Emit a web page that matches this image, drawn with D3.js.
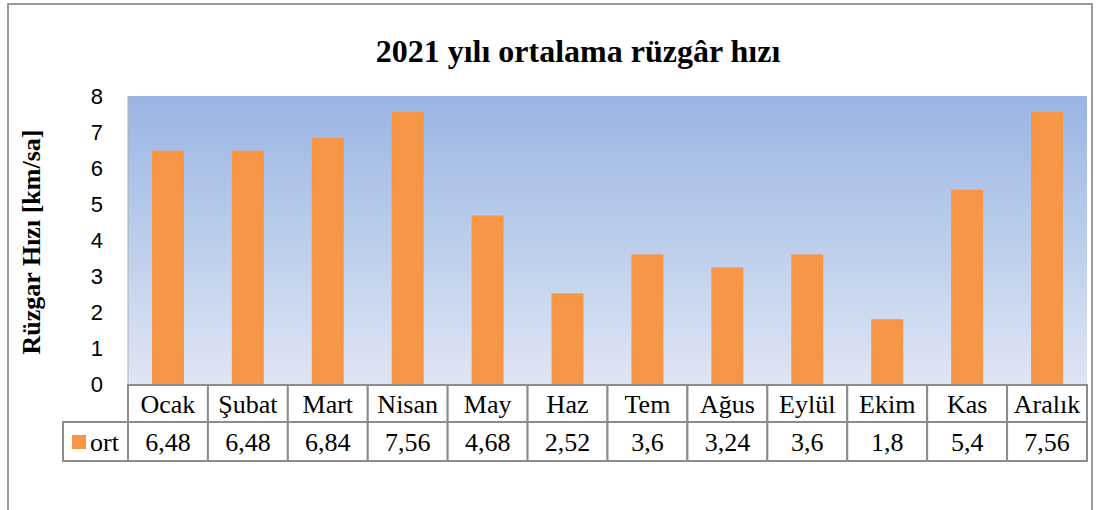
<!DOCTYPE html>
<html>
<head>
<meta charset="utf-8">
<script src="https://cdn.jsdelivr.net/npm/d3@7"></script>
<style>
  body { margin: 0; background: #fff; }
  svg { display: block; }
</style>
</head>
<body>
<div id="vis"></div>
<script>

const FRAME_WIDTH = 1097;
const FRAME_HEIGHT = 510;
const PLOT = {left: 128, right: 1087, top: 96, bottom: 384};

// data
const months = ["Ocak", "Şubat", "Mart", "Nisan", "May", "Haz", "Tem", "Ağus", "Eylül", "Ekim", "Kas", "Aralık"];
const ort = [6.48, 6.48, 6.84, 7.56, 4.68, 2.52, 3.6, 3.24, 3.6, 1.8, 5.4, 7.56];
const yTicks = [0, 1, 2, 3, 4, 5, 6, 7, 8];
const seriesName = "ort";

const BAR_COLOR = "#F79646";
const GRID_COLOR = "#8c8c8c";

const svg = d3.select("#vis")
  .append("svg")
    .attr("width", FRAME_WIDTH)
    .attr("height", FRAME_HEIGHT);

// outer frame of the chart
svg.append("rect")
  .attr("x", 8).attr("y", 4)
  .attr("width", 1084).attr("height", 520)
  .attr("fill", "#fff")
  .attr("stroke", "#9a9a9a")
  .attr("stroke-width", 2);

const defs = svg.append("defs");
const grad = defs.append("linearGradient")
  .attr("id", "bg").attr("x1", 0).attr("y1", 0).attr("x2", 0).attr("y2", 1);
grad.append("stop").attr("offset", "0%").attr("stop-color", "#9AB5E3");
grad.append("stop").attr("offset", "100%").attr("stop-color", "#DEE6F4");

const X = d3.scaleBand()
  .domain(months)
  .range([PLOT.left, PLOT.right])
  .padding(0);

const Y = d3.scaleLinear()
  .domain([0, 8])
  .range([PLOT.bottom, PLOT.top]);

// plot area
svg.append("rect")
  .attr("x", PLOT.left).attr("y", PLOT.top)
  .attr("width", PLOT.right - PLOT.left)
  .attr("height", PLOT.bottom - PLOT.top)
  .attr("fill", "url(#bg)");

svg.append("line")
  .attr("x1", PLOT.left).attr("x2", PLOT.left)
  .attr("y1", PLOT.top).attr("y2", PLOT.bottom)
  .attr("stroke", "#b0b0b0").attr("stroke-width", 1);

// bars
const barW = X.bandwidth() * 0.4;
svg.selectAll(".bar")
  .data(ort)
  .enter()
  .append("rect")
    .attr("class", "bar")
    .attr("x", (d, i) => X(months[i]) + (X.bandwidth() - barW) / 2)
    .attr("y", d => Y(d))
    .attr("width", barW)
    .attr("height", d => Y(0) - Y(d))
    .attr("fill", BAR_COLOR);

// y axis
const yAxis = svg.append("g")
  .attr("transform", "translate(" + (PLOT.left - 25) + ",0)")
  .call(d3.axisLeft(Y).tickValues(yTicks).tickSize(0).tickPadding(0));
yAxis.select(".domain").remove();
yAxis.selectAll("text")
  .attr("font-family", "'Liberation Sans', Arial, sans-serif")
  .attr("font-size", "22px")
  .attr("fill", "#000");

// y label
svg.append("text")
  .attr("transform", "translate(40,242) rotate(-90)")
  .attr("text-anchor", "middle")
  .attr("font-family", "'Liberation Serif', 'Times New Roman', serif")
  .attr("font-weight", "bold")
  .attr("font-size", "26px")
  .text("Rüzgar Hızı [km/sa]");

// title
svg.append("text")
  .attr("x", 578).attr("y", 62)
  .attr("text-anchor", "middle")
  .attr("font-family", "'Liberation Serif', 'Times New Roman', serif")
  .attr("font-weight", "bold")
  .attr("font-size", "32px")
  .text("2021 yılı ortalama rüzgâr hızı");

// data table
const ROW1 = {top: 385, bottom: 422};
const ROW2 = {top: 422, bottom: 461};
const LEG_LEFT = 63;
const tableFont = "'Liberation Serif', 'Times New Roman', serif";

const tbl = svg.append("g");

// header row cells
tbl.selectAll(".hcell")
  .data(months)
  .enter()
  .append("rect")
    .attr("x", d => X(d))
    .attr("y", ROW1.top)
    .attr("width", X.bandwidth())
    .attr("height", ROW1.bottom - ROW1.top)
    .attr("fill", "#fff")
    .attr("stroke", GRID_COLOR)
    .attr("stroke-width", 2);

tbl.selectAll(".vcell")
  .data(months)
  .enter()
  .append("rect")
    .attr("x", d => X(d))
    .attr("y", ROW2.top)
    .attr("width", X.bandwidth())
    .attr("height", ROW2.bottom - ROW2.top)
    .attr("fill", "#fff")
    .attr("stroke", GRID_COLOR)
    .attr("stroke-width", 2);

tbl.append("rect")
  .attr("x", LEG_LEFT).attr("y", ROW2.top)
  .attr("width", PLOT.left - LEG_LEFT)
  .attr("height", ROW2.bottom - ROW2.top)
  .attr("fill", "#fff")
  .attr("stroke", GRID_COLOR)
  .attr("stroke-width", 2);

tbl.selectAll(".htext")
  .data(months)
  .enter()
  .append("text")
    .attr("x", d => X(d) + X.bandwidth() / 2)
    .attr("y", ROW1.top + 28)
    .attr("text-anchor", "middle")
    .attr("font-family", tableFont)
    .attr("font-size", "26px")
    .text(d => d);

tbl.selectAll(".vtext")
  .data(ort)
  .enter()
  .append("text")
    .attr("x", (d, i) => X(months[i]) + X.bandwidth() / 2)
    .attr("y", ROW2.top + 29)
    .attr("text-anchor", "middle")
    .attr("font-family", tableFont)
    .attr("font-size", "26px")
    .text(d => String(d).replace(".", ","));

// legend key
tbl.append("rect")
  .attr("x", 72).attr("y", 435)
  .attr("width", 14).attr("height", 14)
  .attr("fill", BAR_COLOR);

tbl.append("text")
  .attr("x", 90).attr("y", ROW2.top + 29)
  .attr("font-family", tableFont)
  .attr("font-size", "26px")
  .text(seriesName);

</script>
</body>
</html>
